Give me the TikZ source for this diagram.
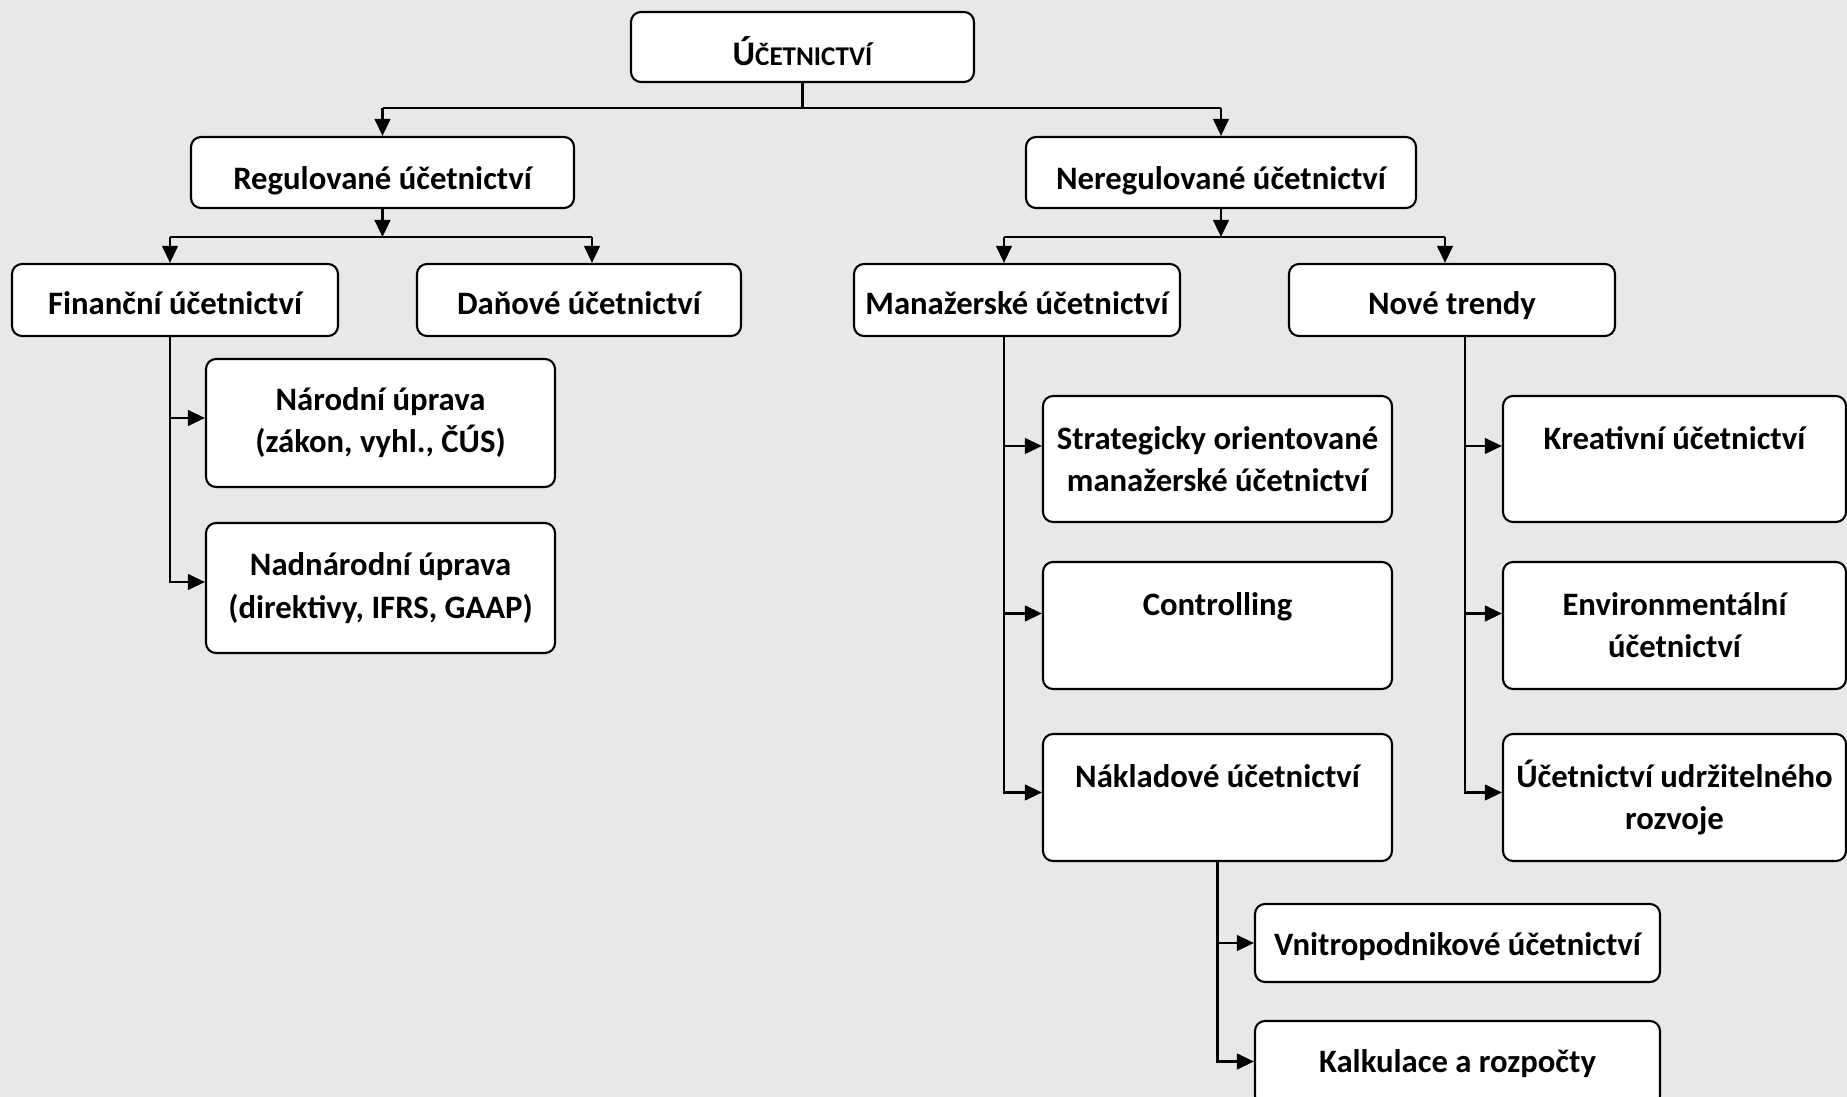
\documentclass[tikz,border=0pt]{standalone}
\usepackage{fontspec}
\setmainfont{Carlito}
\usetikzlibrary{arrows.meta}
\definecolor{bgc}{RGB}{232,232,232}
% fixed line box (12pt tall, given depth) to set the baseline of single-line labels
\newcommand{\linebox}[1]{\rule[-#1]{0pt}{12pt}}
\tikzset{
  box/.style={draw=black, line width=0.6pt, fill=white, rounded corners=0.1cm,
    align=center, inner sep=0pt, font=\fontsize{9.3}{12}\selectfont\bfseries},
  sz/.style 2 args={minimum width=#1*0.01cm, minimum height=#2*0.01cm},
  link/.style={draw=black, line width=0.75pt},
  arr/.style={link, -{Triangle[length=0.17cm, width=0.155cm]}}
}
\begin{document}
\begin{tikzpicture}[x=0.01cm, y=-0.01cm]
\fill[bgc] (0,0) rectangle (1847,1097);
\useasboundingbox (0,0) rectangle (1847,1097);
\clip (0,0) rectangle (1847,1097);

% top level
\node[box, sz={343}{70}] (title) at (802.5,47)
  {\linebox{0.85pt}{\fontsize{9.8}{12}\selectfont Ú}{\fontsize{7.7}{12}\selectfont ČETNICTVÍ}};

% second level
\node[box, sz={383}{71}] (reg)   at (382.5,172.5) {\linebox{0.85pt}Regulované účetnictví};
\node[box, sz={390}{71}] (nereg) at (1221,172.5)  {\linebox{0.85pt}Neregulované účetnictví};

% third level
\node[box, sz={326}{72}] (fin)  at (175,300)  {\linebox{1.85pt}Finanční účetnictví};
\node[box, sz={324}{72}] (dan)  at (579,300)  {\linebox{1.85pt}Daňové účetnictví};
\node[box, sz={326}{72}] (man)  at (1017,300) {\linebox{1.85pt}Manažerské účetnictví};
\node[box, sz={326}{72}] (nove) at (1452,300) {\linebox{1.85pt}Nové trendy};

% legal framework
\node[box, sz={349}{128}] (nar)    at (380.5,423) {Národní úprava\\(zákon, vyhl., ČÚS)};
\node[box, sz={349}{130}] (nadnar) at (380.5,588) {Nadnárodní úprava\\(direktivy, IFRS, GAAP)};

% management accounting
\node[box, sz={349}{126}] (strat) at (1217.5,459)   {Strategicky orientované\\manažerské účetnictví};
\node[box, sz={349}{127}] (contr) at (1217.5,625.5) {Controlling\\~};
\node[box, sz={349}{127}] (nakl)  at (1217.5,797.5) {Nákladové účetnictví\\~};

% new trends
\node[box, sz={343}{126}] (kreat) at (1674.5,459)   {Kreativní účetnictví\\~};
\node[box, sz={343}{127}] (env)   at (1674.5,625.5) {Environmentální\\účetnictví};
\node[box, sz={343}{127}] (udrz)  at (1674.5,797.5) {Účetnictví udržitelného\\rozvoje};

% cost accounting
\node[box, sz={405}{78}] (vnitro) at (1457.5,943)    {\linebox{2.45pt}Vnitropodnikové účetnictví};
\node[box, sz={405}{85}] (kalk)   at (1457.5,1063.5) {\linebox{3.5pt}Kalkulace a rozpočty};

% bus lines, drop points and arrow entry points
\coordinate (busA) at (0,108);
\coordinate (finDrop)  at (170,237);
\coordinate (danDrop)  at (592,237);
\coordinate (manDrop)  at (1004,237);
\coordinate (noveDrop) at (1445,237);
\coordinate (noveTrunk) at (1465,0);

\coordinate (narIn)    at ([yshift=0.05cm]nar.west);
\coordinate (nadnarIn) at ([yshift=0.06cm]nadnar.west);
\coordinate (stratIn)  at ([yshift=0.13cm]strat.west);
\coordinate (contrIn)  at ([yshift=0.12cm]contr.west);
\coordinate (naklIn)   at ([yshift=0.05cm]nakl.west);
\coordinate (kreatIn)  at ([yshift=0.13cm]kreat.west);
\coordinate (envIn)    at ([yshift=0.12cm]env.west);
\coordinate (udrzIn)   at ([yshift=0.05cm]udrz.west);
\coordinate (kalkIn)   at ([yshift=0.02cm]kalk.west);

% title to second level
\draw[link] (title.south) -- (title.south |- busA);
\draw[link] (reg.north |- busA) -- (nereg.north |- busA);
\draw[arr] (reg.north |- busA) -- (reg.north);
\draw[arr] (nereg.north |- busA) -- (nereg.north);

% regulated branch
\draw[arr] (reg.south) -- (reg.south |- finDrop);
\draw[link] (finDrop) -- (danDrop);
\draw[arr] (finDrop) -- (finDrop |- fin.north);
\draw[arr] (danDrop) -- (danDrop |- dan.north);

% unregulated branch
\draw[arr] (nereg.south) -- (nereg.south |- manDrop);
\draw[link] (manDrop) -- (noveDrop);
\draw[arr] (manDrop) -- (manDrop |- man.north);
\draw[arr] (noveDrop) -- (noveDrop |- nove.north);

% financial accounting children
\draw[arr] (finDrop |- fin.south) |- (nadnarIn);
\draw[arr] (finDrop |- narIn) -- (narIn);

% management accounting children
\draw[arr] (manDrop |- man.south) |- (naklIn);
\draw[arr] (manDrop |- stratIn) -- (stratIn);
\draw[arr] (manDrop |- contrIn) -- (contrIn);

% new trends children
\draw[arr] (noveTrunk |- nove.south) |- (udrzIn);
\draw[arr] (noveTrunk |- kreatIn) -- (kreatIn);
\draw[arr] (noveTrunk |- envIn) -- (envIn);

% cost accounting children
\draw[arr] (nakl.south) |- (kalkIn);
\draw[arr] (nakl.south |- vnitro.west) -- (vnitro.west);
\end{tikzpicture}
\end{document}
